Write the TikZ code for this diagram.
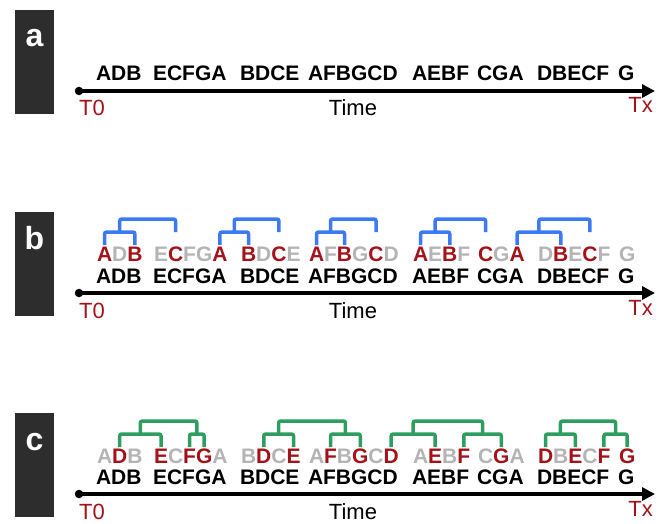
\documentclass[tikz,border=0pt]{standalone}
\usepackage{fontspec}
\setmainfont{Liberation Sans}
\usetikzlibrary{arrows.meta,calc}

\definecolor{hitred}{RGB}{162,18,24}
\definecolor{missgray}{RGB}{180,180,180}
\definecolor{brkblue}{RGB}{59,121,245}
\definecolor{brkgreen}{RGB}{46,158,96}
\definecolor{tabgray}{RGB}{45,45,45}

\tikzset{
  seq/.style={font=\fontsize{21pt}{25pt}\selectfont\bfseries, inner sep=0pt, outer sep=0pt, anchor=base west},
  ltr/.style={seq, text=black},
  tick/.style={font=\fontsize{22pt}{26pt}\selectfont, inner sep=0pt, anchor=base},
  tab/.style={fill=tabgray, minimum width=39pt, minimum height=104pt, inner sep=0pt, anchor=north west},
  tabletter/.style={font=\fontsize{32pt}{36pt}\selectfont\bfseries, text=white, inner sep=0pt, anchor=base},
  timeline/.style={line width=3.5pt, -{Triangle[length=13pt,width=13pt]}},
  dot/.style={circle, fill=black, inner sep=0pt, minimum size=8.5pt},
  brk/.style={line width=3.5pt, rounded corners=2pt}
}

% one group of letters, each letter a node of its own
\newcommand{\tinted}[3]{%
  \node[ltr] (#1-0) at (#2) {};
  \foreach \ch/\col [count=\i, remember=\i as \j (initially 0)] in {#3}
    \node[ltr, text=\col] (#1-\i) at (#1-\j.base east) {\ch};
}

% bracket between two feet at the same height
\newcommand{\fork}[3]{%
  \draw[brk] (#1) -- ++(0,-13) -| (#2);
  \coordinate (#3) at ($(#1)!.5!(#2)+(0,-13)$);
}

\begin{document}
\begin{tikzpicture}[x=1pt,y=-1pt]
\useasboundingbox (0,0) rectangle (664,524);

\foreach \p/\y in {a/91,b/293,c/494}{
  \node[tab] (tab\p) at (15,\y-81) {};
  \node[tabletter] (lab\p) at (34.5,\y-44) {\p};
  \node[dot] (t0\p) at (79,\y) {};
  \coordinate (tx\p) at (655,\y);
  \draw[timeline] (t0\p.center) -- (tx\p);
  \node[tick, anchor=base west, text=hitred] (start\p) at (79,\y+25) {T0};
  \node[tick] (time\p) at (353,\y+25) {Time};
  \node[tick, anchor=base east, text=hitred] (end\p) at (653,\y+22) {Tx};
  \foreach \x/\s [count=\g] in {96/ADB,153/ECFGA,240/BDCE,308/AFBGCD,412/AEBF,477/CGA,537/DBECF,618/G}
    \node[seq] (s\p\g) at (\x,\y-10) {\s};
}

%% b
\tinted{mb1}{sb1.base west |- 0,261}{A/hitred,D/missgray,B/hitred}
\tinted{mb2}{sb2.base west |- 0,261}{E/missgray,C/hitred,F/missgray,G/missgray,A/hitred}
\tinted{mb3}{sb3.base west |- 0,261}{B/hitred,D/missgray,C/hitred,E/missgray}
\tinted{mb4}{sb4.base west |- 0,261}{A/hitred,F/missgray,B/hitred,G/missgray,C/hitred,D/missgray}
\tinted{mb5}{sb5.base west |- 0,261}{A/hitred,E/missgray,B/hitred,F/missgray}
\tinted{mb6}{sb6.base west |- 0,261}{C/hitred,G/missgray,A/hitred}
\tinted{mb7}{sb7.base west |- 0,261}{D/missgray,B/hitred,E/missgray,C/hitred,F/missgray}
\tinted{mb8}{sb8.base west |- 0,261}{G/missgray}

\begin{scope}[brk/.append style={draw=brkblue}]
\coordinate (footb) at (0,245);
\coordinate (kneeb) at (0,232);
\fork{mb1-1 |- footb}{mb1-3 |- footb}{jb1}
\fork{jb1}{mb2-2 |- kneeb}{jb2}
\fork{mb2-5 |- footb}{mb3-1 |- footb}{jb3}
\fork{jb3}{mb3-3 |- kneeb}{jb4}
\fork{mb4-1 |- footb}{mb4-3 |- footb}{jb5}
\fork{jb5}{mb4-5 |- kneeb}{jb6}
\fork{mb5-1 |- footb}{mb5-3 |- footb}{jb7}
\fork{jb7}{mb6-1 |- kneeb}{jb8}
\fork{mb6-3 |- footb}{mb7-2 |- footb}{jb9}
\fork{jb9}{mb7-4 |- kneeb}{jb10}
\end{scope}

%% c
\tinted{mc1}{sc1.base west |- 0,463}{A/missgray,D/hitred,B/missgray}
\tinted{mc2}{sc2.base west |- 0,463}{E/hitred,C/missgray,F/hitred,G/hitred,A/missgray}
\tinted{mc3}{sc3.base west |- 0,463}{B/missgray,D/hitred,C/missgray,E/hitred}
\tinted{mc4}{sc4.base west |- 0,463}{A/missgray,F/hitred,B/missgray,G/hitred,C/missgray,D/hitred}
\tinted{mc5}{sc5.base west |- 0,463}{A/missgray,E/hitred,B/missgray,F/hitred}
\tinted{mc6}{sc6.base west |- 0,463}{C/missgray,G/hitred,A/missgray}
\tinted{mc7}{sc7.base west |- 0,463}{D/hitred,B/missgray,E/hitred,C/missgray,F/hitred}
\tinted{mc8}{sc8.base west |- 0,463}{G/hitred}

\begin{scope}[brk/.append style={draw=brkgreen}]
\coordinate (footc) at (0,447);
\fork{mc1-2 |- footc}{mc2-1 |- footc}{jc1}
\fork{mc2-3 |- footc}{mc2-4 |- footc}{jc2}
\fork{jc1}{jc2}{jc3}
\fork{mc3-2 |- footc}{mc3-4 |- footc}{jc4}
\fork{mc4-2 |- footc}{mc4-4 |- footc}{jc5}
\fork{jc4}{jc5}{jc6}
\fork{mc4-6 |- footc}{mc5-2 |- footc}{jc7}
\fork{mc5-4 |- footc}{mc6-2 |- footc}{jc8}
\fork{jc7}{jc8}{jc9}
\fork{mc7-1 |- footc}{mc7-3 |- footc}{jc10}
\fork{mc7-5 |- footc}{mc8-1 |- footc}{jc11}
\fork{jc10}{jc11}{jc12}
\end{scope}

\end{tikzpicture}
\end{document}
